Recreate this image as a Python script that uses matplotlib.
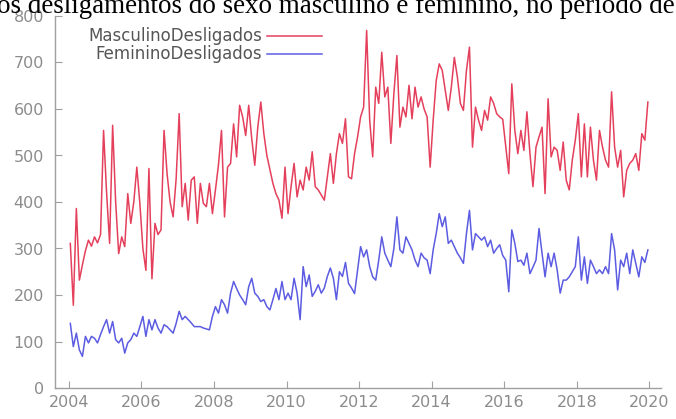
import numpy as np
import matplotlib
matplotlib.use("Agg")
import matplotlib.pyplot as plt
from matplotlib.lines import Line2D

years = list(range(2004, 2020))

masculino = {
    2004: [311, 178, 386, 232, 265, 295, 318, 305, 325, 312, 330, 554],
    2005: [420, 311, 565, 400, 289, 325, 304, 418, 354, 400, 475, 397],
    2006: [300, 253, 472, 235, 354, 330, 340, 554, 461, 400, 368, 450],
    2007: [590, 390, 440, 361, 447, 454, 354, 440, 397, 390, 440, 375],
    2008: [426, 480, 554, 368, 475, 483, 568, 497, 608, 583, 543, 608],
    2009: [536, 479, 561, 615, 547, 500, 470, 440, 418, 404, 365, 475],
    2010: [375, 433, 483, 411, 447, 426, 475, 447, 508, 433, 426, 415],
    2011: [404, 454, 504, 440, 504, 547, 526, 579, 454, 450, 504, 540],
    2012: [583, 604, 769, 576, 497, 647, 612, 722, 626, 647, 526, 633],
    2013: [715, 561, 604, 583, 651, 579, 647, 604, 626, 600, 583, 475],
    2014: [576, 661, 697, 683, 640, 597, 647, 711, 669, 612, 597, 683],
    2015: [733, 518, 604, 576, 554, 597, 576, 626, 612, 590, 583, 578],
    2016: [520, 461, 654, 554, 504, 554, 511, 594, 504, 433, 518, 540],
    2017: [561, 418, 622, 497, 518, 511, 468, 529, 447, 426, 490, 533],
    2018: [590, 454, 568, 454, 561, 490, 447, 554, 518, 490, 475, 637],
    2019: [518, 475, 511, 411, 468, 483, 490, 504, 468, 547, 533, 615],
}

feminino = {
    2004: [139, 89, 118, 82, 68, 111, 97, 111, 107, 97, 115, 132],
    2005: [147, 118, 143, 104, 97, 107, 75, 97, 104, 118, 111, 132],
    2006: [154, 111, 147, 125, 147, 129, 118, 136, 132, 125, 118, 139],
    2007: [165, 147, 154, 147, 140, 132, 132, 132, 129, 127, 125, 154],
    2008: [175, 161, 190, 179, 161, 204, 229, 214, 200, 190, 179, 218],
    2009: [236, 204, 197, 186, 190, 175, 168, 190, 214, 190, 229, 190],
    2010: [204, 190, 236, 204, 147, 261, 218, 243, 197, 208, 222, 204],
    2011: [215, 240, 258, 236, 190, 250, 240, 270, 225, 215, 203, 254],
    2012: [304, 282, 297, 261, 239, 232, 275, 325, 290, 275, 261, 300],
    2013: [368, 297, 290, 325, 311, 297, 275, 261, 290, 280, 275, 246],
    2014: [297, 332, 375, 347, 368, 311, 318, 304, 290, 280, 268, 332],
    2015: [382, 297, 332, 325, 318, 325, 304, 318, 290, 300, 308, 285],
    2016: [275, 207, 340, 311, 272, 275, 264, 290, 246, 260, 275, 343],
    2017: [290, 239, 290, 261, 290, 254, 204, 232, 232, 239, 250, 261],
    2018: [325, 232, 282, 225, 275, 261, 246, 254, 246, 261, 246, 332],
    2019: [297, 211, 275, 261, 290, 246, 297, 268, 239, 282, 270, 297],
}

xticks = [2004, 2006, 2008, 2010, 2012, 2014, 2016, 2018, 2020]
yticks = [0, 100, 200, 300, 400, 500, 600, 700, 800]
title_text = "os desligamentos do sexo masculino e feminino, no período de"
labels = ["MasculinoDesligados", "FemininoDesligados"]

t = np.array([y + (m + 0.5) / 12 for y in years for m in range(12)])
masc = np.array([v for y in years for v in masculino[y]])
fem = np.array([v for y in years for v in feminino[y]])

W, H = 676, 419
fig = plt.figure(figsize=(W / 100, H / 100), dpi=100)
ax = fig.add_axes([55 / W, 1 - 388 / H, (661 - 55) / W, (388 - 16) / H])

red = "#e4405c"
blue = "#5c5ce2"
gray = "#8c8c8c"

ax.plot(t, masc, color=red, lw=1.1)
ax.plot(t, fem, color=blue, lw=1.1)

ax.set_xlim(2003.62, 2020.32)
ax.set_ylim(0, 800)
ax.set_xticks(xticks)
ax.set_yticks(yticks)
for s in ["top", "right"]:
    ax.spines[s].set_visible(False)
for s in ["left", "bottom"]:
    ax.spines[s].set_color("#a0a0a0")
    ax.spines[s].set_linewidth(1.0)
ax.tick_params(direction="in", length=5, color="#a0a0a0", labelcolor=gray,
               labelsize=11.5)
ax.tick_params(axis="y", pad=8)
ax.tick_params(axis="x", pad=5)

# legend (gnuplot style: right-justified text, then sample line)
leg_y = [1 - 36 / H, 1 - 54 / H]
for lab, col, yy in zip(labels, [red, blue], leg_y):
    fig.text(262 / W, yy, lab, ha="right", va="center", color="#555555",
             fontsize=12)
    fig.add_artist(Line2D([267 / W, 322 / W], [yy, yy], color=col, lw=1.1))

# clipped caption text at the top
txt = fig.text(-3 / W, 1 - 13 / H, title_text, ha="left", va="baseline",
               family="Liberation Serif", fontsize=18, color="black")
fig.canvas.draw()
r = fig.canvas.get_renderer()
wpx = txt.get_window_extent(r).width
txt.set_fontsize(18 * 680 / wpx)

fig.savefig("out.png", dpi=100)
